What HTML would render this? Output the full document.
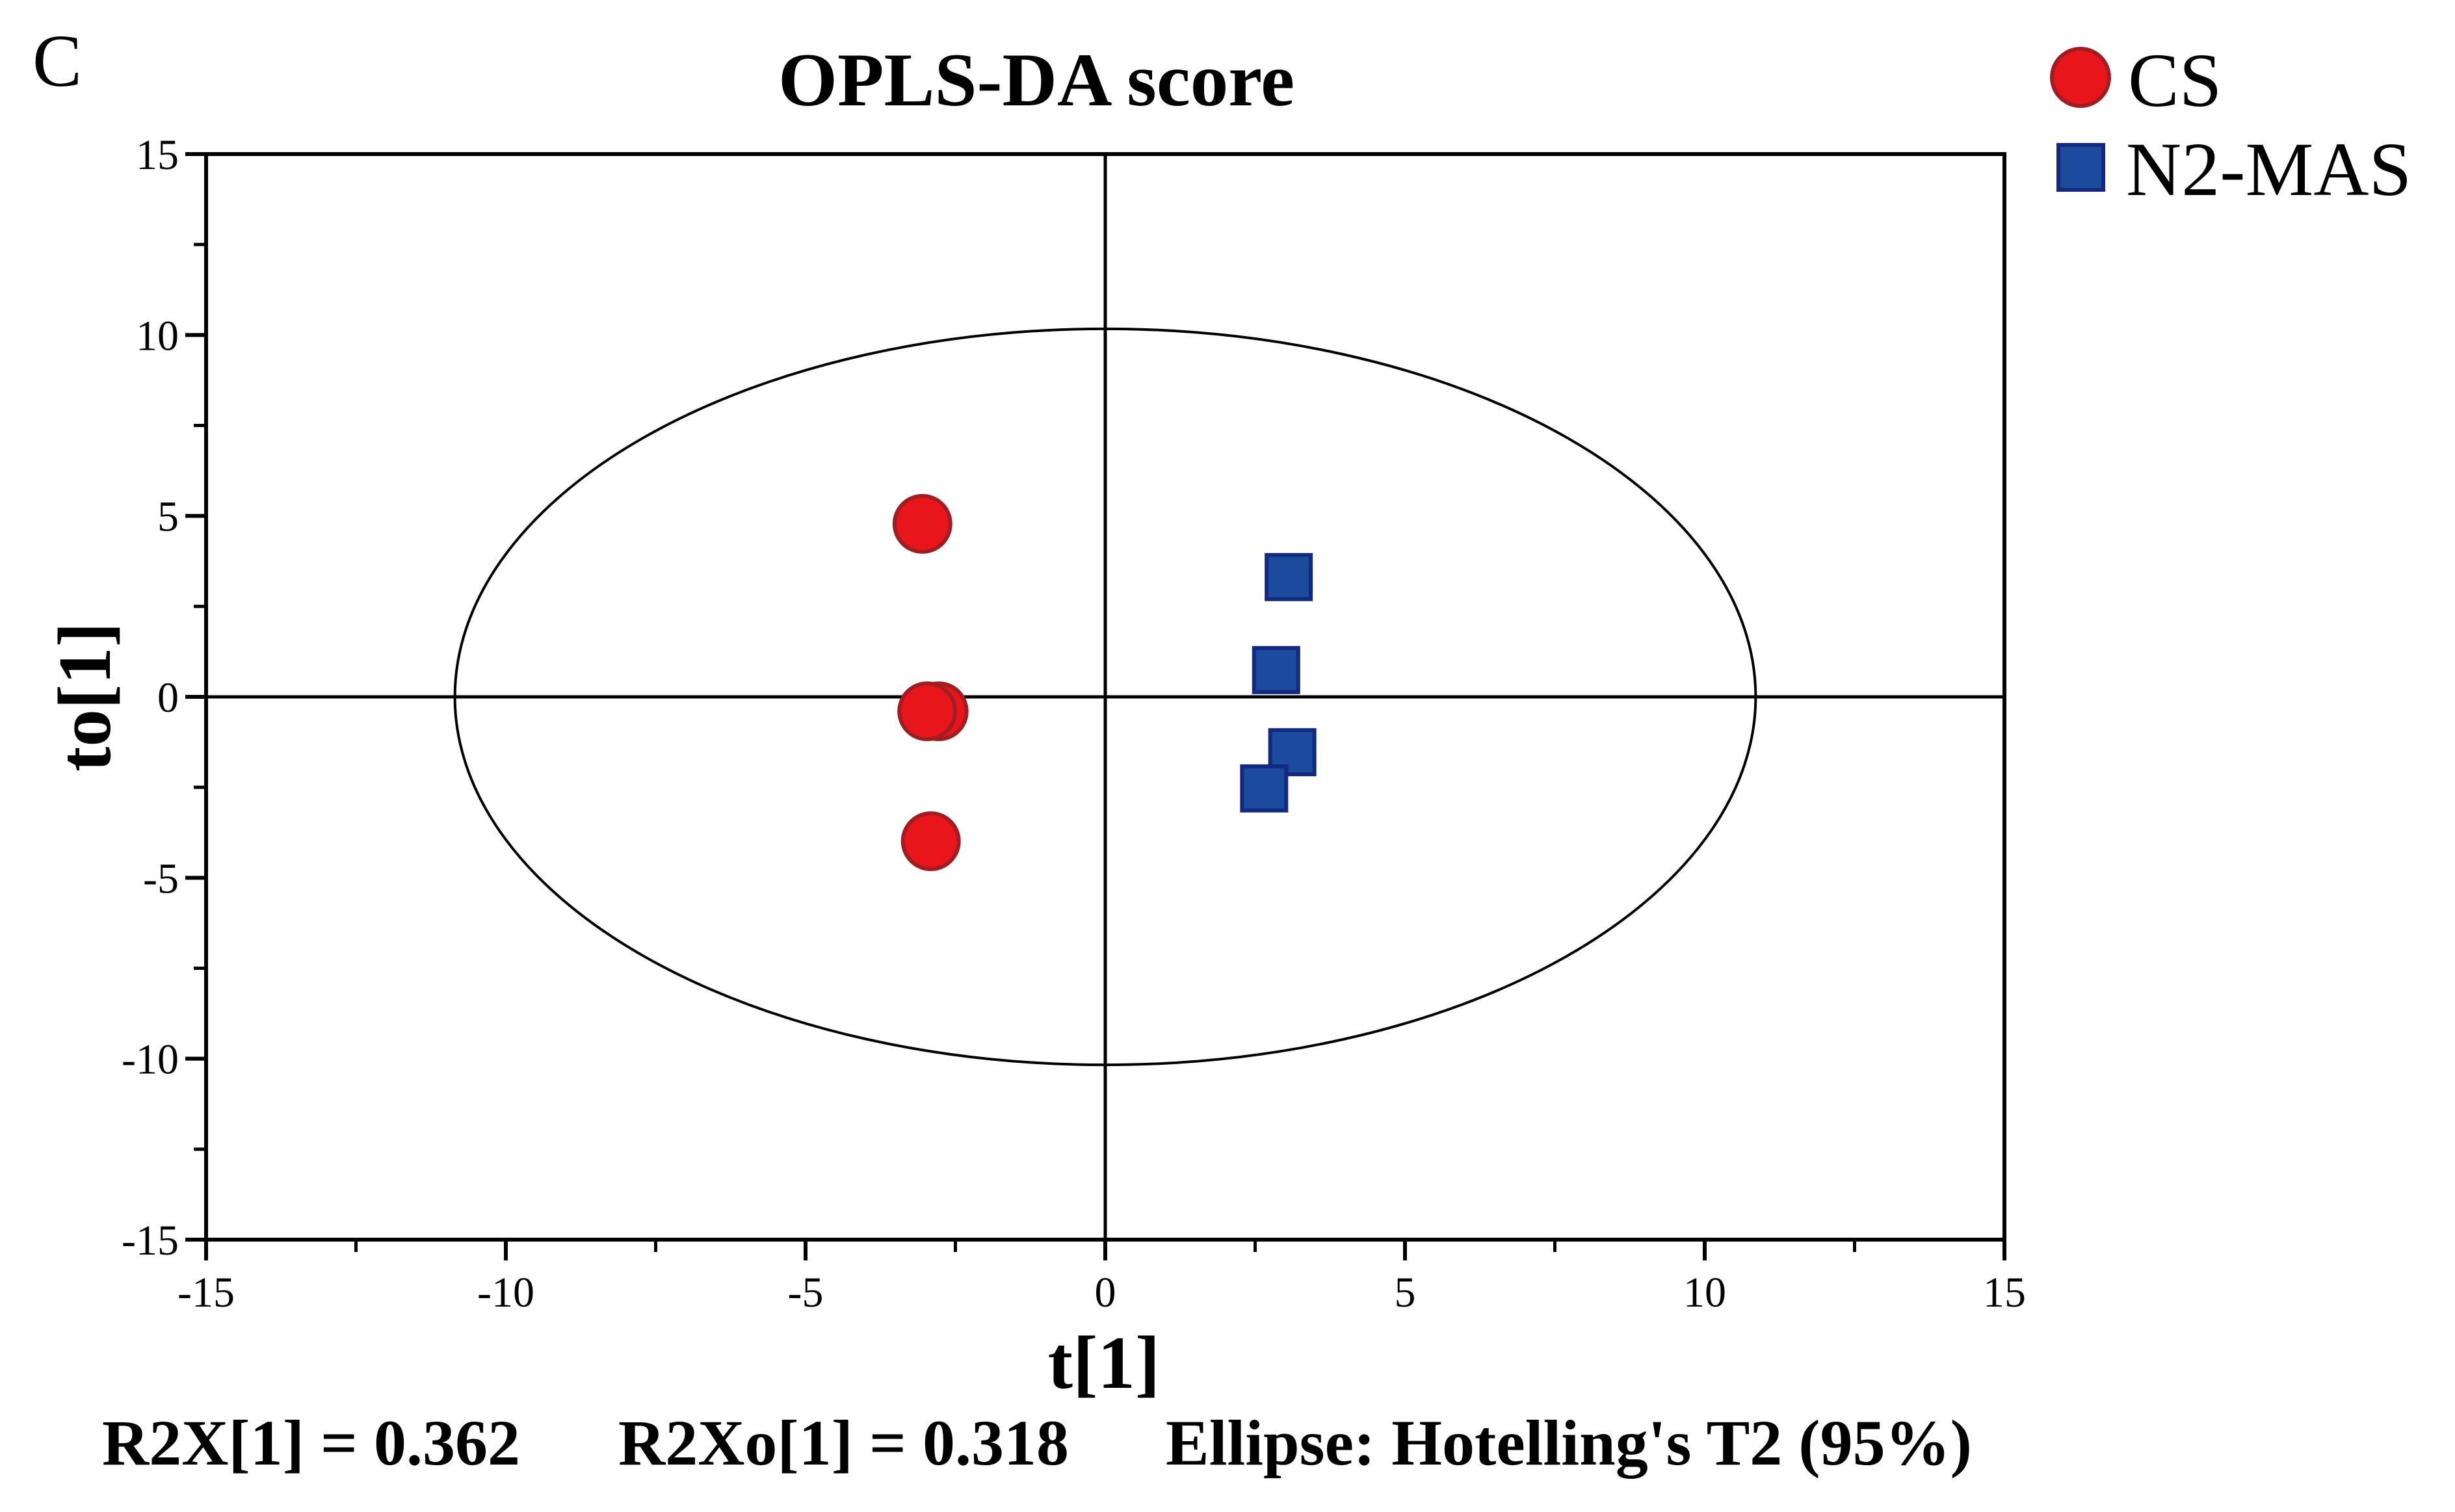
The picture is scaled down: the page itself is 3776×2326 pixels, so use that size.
<!DOCTYPE html>
<html><head><meta charset="utf-8"><style>
html,body{margin:0;padding:0;background:#fff;}
svg{display:block;font-family:"Liberation Serif",serif;}
</style></head><body>
<svg id="chart" width="3776" height="2326" viewBox="0 0 3776 2326" xmlns="http://www.w3.org/2000/svg">
<rect x="0" y="0" width="3776" height="2326" fill="#fff"/>
<text x="50" y="132" font-size="114">C</text>
<text x="1594" y="162" font-size="117" font-weight="bold" text-anchor="middle">OPLS-DA score</text>
<g id="plot"></g>
<g id="legend">
  <g>
    <circle cx="3200" cy="119" r="44" fill="#e8151b" stroke="#a01e22" stroke-width="6"/>
    <text x="3273" y="163" font-size="118">CS</text>
  </g>
  <g>
    <rect x="3166" y="223" width="69" height="69" fill="#1c4a9c" stroke="#112a80" stroke-width="6"/>
    <text x="3270" y="300" font-size="118">N2-MAS</text>
  </g>
</g>
<text x="1698" y="2135" font-size="115" font-weight="bold" text-anchor="middle">t[1]</text>
<text x="0" y="0" font-size="115" font-weight="bold" text-anchor="middle" transform="translate(169,1072) rotate(-90)">to[1]</text>
<text x="157" y="2253" font-size="100" font-weight="bold">R2X[1] = 0.362</text>
<text x="951" y="2253" font-size="100" font-weight="bold">R2Xo[1] = 0.318</text>
<text x="1793" y="2253" font-size="100" font-weight="bold">Ellipse: Hotelling's T2 (95%)</text>
</svg>
<script>
const xTicks = [-15, -10, -5, 0, 5, 10, 15];
const yTicks = [-15, -10, -5, 0, 5, 10, 15];
const xTickLabels = ["-15", "-10", "-5", "0", "5", "10", "15"];
const yTickLabels = ["-15", "-10", "-5", "0", "5", "10", "15"];
const csT = [-3.05, -2.78, -2.97, -2.91];
const csTo = [4.78, -0.40, -0.40, -3.99];
const n2T = [3.06, 2.85, 3.12, 2.65];
const n2To = [3.31, 0.74, -1.53, -2.53];
const ellipseSemi = [10.85, 10.17];

const NS = "http://www.w3.org/2000/svg";
const L = 317, R = 3083, T = 237, B = 1907;
const xMin = -15, xMax = 15, yMin = -15, yMax = 15;
function sx(v){ return L + (v - xMin) / (xMax - xMin) * (R - L); }
function sy(v){ return B - (v - yMin) / (yMax - yMin) * (B - T); }
const plot = document.getElementById("plot");
function mk(tag, attrs){ const e = document.createElementNS(NS, tag); for (const k in attrs) e.setAttribute(k, attrs[k]); plot.appendChild(e); return e; }

// ellipse
let el = mk("ellipse", {cx: sx(0), cy: sy(0), rx: sx(ellipseSemi[0]) - sx(0), ry: sy(0) - sy(ellipseSemi[1]), fill: "none", stroke: "#000", "stroke-width": 4});


// zero lines
let zx = mk("line", {x1: L, x2: R, y1: sy(0), y2: sy(0), stroke: "#000", "stroke-width": 5});


let zy = mk("line", {x1: sx(0), x2: sx(0), y1: T, y2: B, stroke: "#000", "stroke-width": 5});


// axes
let ax = mk("line", {x1: L - 32, x2: R + 3, y1: B, y2: B, stroke: "#000", "stroke-width": 6});


let ay = mk("line", {x1: L, x2: L, y1: T - 3, y2: B + 32, stroke: "#000", "stroke-width": 6});


let at = mk("line", {x1: L - 32, x2: R + 3, y1: T, y2: T, stroke: "#000", "stroke-width": 6});


let ar = mk("line", {x1: R, x2: R, y1: T - 3, y2: B + 32, stroke: "#000", "stroke-width": 6});


// ticks
for (let i = 0; i < xTicks.length; i++) {
  const x = sx(xTicks[i]);
  const t = mk("line", {x1: x, x2: x, y1: B, y2: B + 32, stroke: "#000", "stroke-width": 6});
  
  
  const lb = mk("text", {x: x, y: 2010, "font-size": 66, "text-anchor": "middle"});
  lb.textContent = xTickLabels[i];
  
  
  if (i < xTicks.length - 1) {
    const xm = sx((xTicks[i] + xTicks[i+1]) / 2);
    const m = mk("line", {x1: xm, x2: xm, y1: B, y2: B + 19, stroke: "#000", "stroke-width": 5});
    
    
  }
}
for (let i = 0; i < yTicks.length; i++) {
  const y = sy(yTicks[i]);
  const t = mk("line", {x1: L - 32, x2: L, y1: y, y2: y, stroke: "#000", "stroke-width": 6});
  
  
  const lb = mk("text", {x: 275, y: y + 23, "font-size": 66, "text-anchor": "end"});
  lb.textContent = yTickLabels[i];
  
  
  if (i < yTicks.length - 1) {
    const ym = sy((yTicks[i] + yTicks[i+1]) / 2);
    const m = mk("line", {x1: L - 19, x2: L, y1: ym, y2: ym, stroke: "#000", "stroke-width": 5});
    
    
  }
}
// CS points
for (let i = 0; i < csT.length; i++) {
  const c = mk("circle", {cx: sx(csT[i]), cy: sy(csTo[i]), r: 43, fill: "#e8151b", stroke: "#a01e22", "stroke-width": 6});
  
  
}
// N2-MAS points
for (let i = 0; i < n2T.length; i++) {
  const s = mk("rect", {x: sx(n2T[i]) - 34, y: sy(n2To[i]) - 34, width: 68, height: 68, fill: "#1c4a9c", stroke: "#112a80", "stroke-width": 6});
  
  
}
</script>
</body></html>
